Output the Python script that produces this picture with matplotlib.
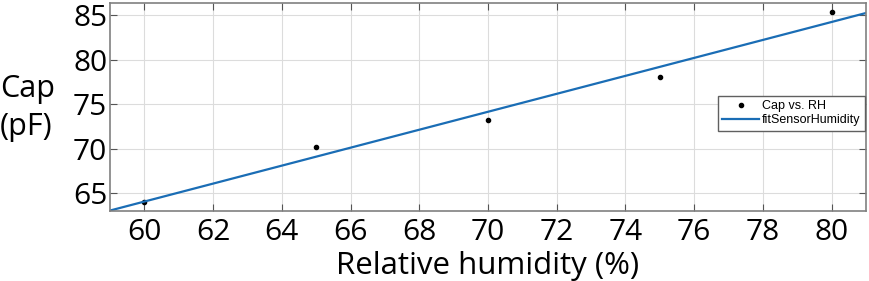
import numpy as np
import matplotlib.pyplot as plt

# measured points
rh = [60, 65, 70, 75, 80]
cap = [64.0, 70.2, 73.2, 78.0, 85.3]

# linear fit through the points
coef = np.polyfit(rh, cap, 1)
fit_x = np.array([59, 81])
fit_y = np.polyval(coef, fit_x)

fig = plt.figure(figsize=(8.69, 2.81), dpi=100)
ax = fig.add_axes([110 / 869, 70 / 281, 756 / 869, 208 / 281])

ax.plot(rh, cap, 'k.', markersize=6, label='Cap vs. RH')
ax.plot(fit_x, fit_y, color='#1a6db5', linewidth=1.6, label='fitSensorHumidity')

ax.set_xlim(59, 81)
ax.set_ylim(63, 86.35)
ax.set_xticks(range(60, 81, 2))
ax.set_yticks(range(65, 86, 5))
ax.grid(True, color='#dcdcdc', linewidth=0.8)
ax.tick_params(direction='in', top=True, right=True, length=5, color='#555555',
               labelsize=21.5)
ax.tick_params(axis='x', pad=5)
ax.tick_params(axis='y', pad=2)
for lab in ax.get_xticklabels() + ax.get_yticklabels():
    lab.set_family('Open Sans')
for s in ax.spines.values():
    s.set_color('#808080')
    s.set_linewidth(1.2)

ax.set_xlabel('Relative humidity (%)', fontsize=22.5, family='Open Sans', labelpad=3)
fig.text(0 / 869, 1 - 108 / 281, 'Cap\n(pF)', fontsize=22, family='Open Sans',
         ha='left', va='center', linespacing=1.35)

leg = ax.legend(loc='upper right', bbox_to_anchor=(0.9985, 0.555),
                prop={'family': 'Liberation Sans', 'size': 9},
                frameon=True, fancybox=False, framealpha=1, edgecolor='#606060',
                handlelength=3.0, borderpad=0.35, labelspacing=0.2, handletextpad=0.2,
                borderaxespad=0)
leg.get_frame().set_linewidth(1.0)

fig.savefig('out.png', dpi=100)
